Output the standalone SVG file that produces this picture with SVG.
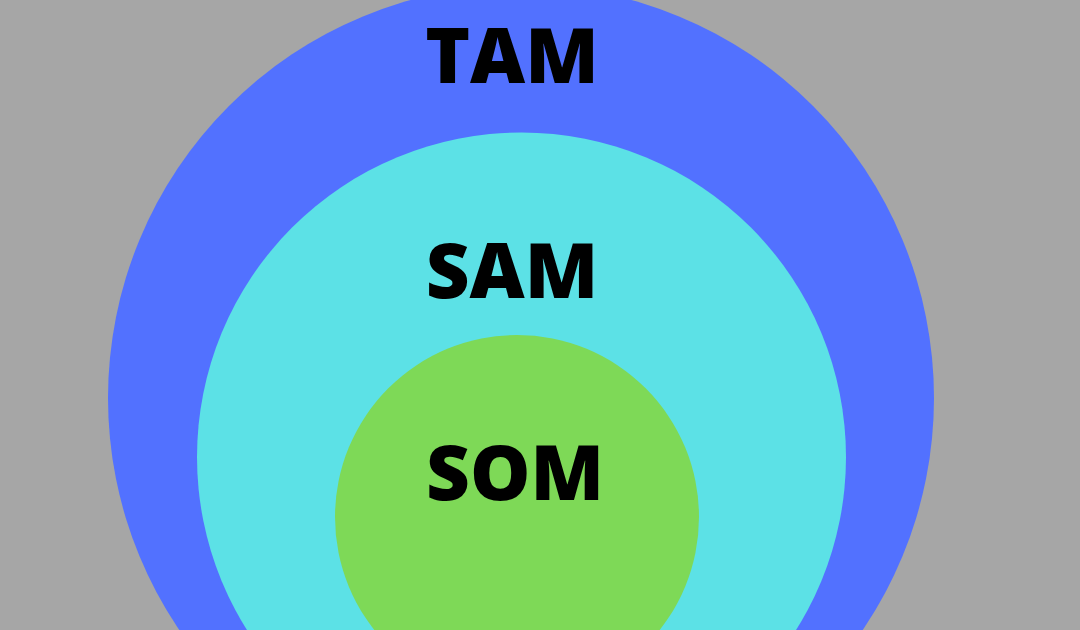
<svg xmlns="http://www.w3.org/2000/svg" width="1080" height="630" viewBox="0 0 1080 630">
<style>
text{font-family:"Open Sans","Liberation Sans",sans-serif;font-weight:800;font-size:76px;fill:#000;text-anchor:middle}
</style>
<rect width="1080" height="630" fill="#a6a6a6"/>
<g id="tam"><circle cx="521" cy="398" r="413" fill="#5271ff"/><text x="512" y="83">TAM</text></g>
<g id="sam"><circle cx="521.5" cy="457" r="324.5" fill="#5ce1e6"/><text x="512" y="298">SAM</text></g>
<g id="som"><circle cx="517" cy="517" r="182" fill="#7ed957"/><text x="515" y="500">SOM</text></g>
<g id="connectors"/>
</svg>
